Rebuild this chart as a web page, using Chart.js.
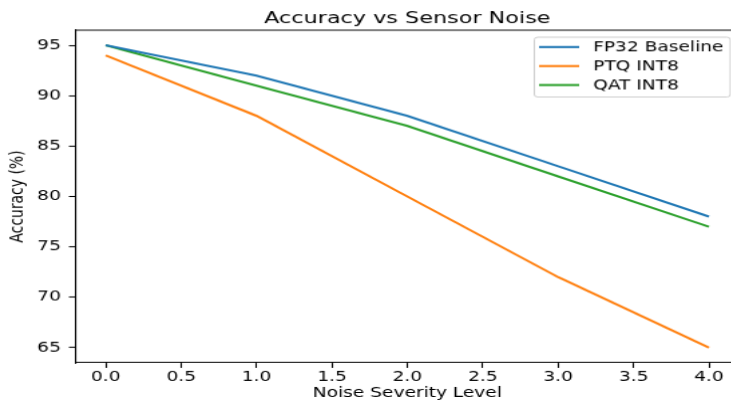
<!DOCTYPE html>
<html>
<head>
<meta charset="utf-8">
<script src="https://cdn.jsdelivr.net/npm/chart.js@4.4.1/dist/chart.umd.min.js"></script>
<style>
  html, body { margin: 0; padding: 0; background: #fff; overflow: hidden; width: 731px; height: 402px; }
  #wrap { width: 560px; height: 400px; transform-origin: 0 0; transform: scale(1.3375, 1.005); }
  canvas { display: block; }
</style>
</head>
<body>
<div id="wrap"><canvas id="c" width="560" height="400"></canvas></div>
<script>
const noiseLevels = [0, 1, 2, 3, 4];
const fp32Baseline = [95, 92, 88, 83, 78];
const ptqInt8 = [94, 88, 80, 72, 65];
const qatInt8 = [95, 91, 87, 82, 77];
const xTicks = [0, 0.5, 1, 1.5, 2, 2.5, 3, 3.5, 4];
const yTicks = [65, 70, 75, 80, 85, 90, 95];
const seriesNames = ['FP32 Baseline', 'PTQ INT8', 'QAT INT8'];
const seriesColors = ['#1f77b4', '#ff7f0e', '#2ca02c'];

const FONT = 'DejaVu Sans';
const toPts = vals => noiseLevels.map((x, i) => ({ x: x, y: vals[i] }));

const framePlugin = {
  id: 'frame',
  afterDraw(chart) {
    const { ctx, chartArea: a } = chart;
    ctx.save();
    ctx.strokeStyle = '#000';
    ctx.lineWidth = 1.1;
    ctx.beginPath();
    ctx.moveTo(a.left, a.top);
    ctx.lineTo(a.right, a.top);
    ctx.lineTo(a.right, a.bottom);
    ctx.stroke();
    // title
    ctx.fillStyle = '#000';
    ctx.font = '16.7px "' + FONT + '"';
    ctx.textAlign = 'center';
    ctx.textBaseline = 'alphabetic';
    ctx.fillText('Accuracy vs Sensor Noise', (a.left + a.right) / 2, 23);
    // legend
    const bx = 399.5, by = 37, bw = 146.5, bh = 59.5, r = 2.5;
    ctx.beginPath();
    ctx.moveTo(bx + r, by);
    ctx.lineTo(bx + bw - r, by);
    ctx.quadraticCurveTo(bx + bw, by, bx + bw, by + r);
    ctx.lineTo(bx + bw, by + bh - r);
    ctx.quadraticCurveTo(bx + bw, by + bh, bx + bw - r, by + bh);
    ctx.lineTo(bx + r, by + bh);
    ctx.quadraticCurveTo(bx, by + bh, bx, by + bh - r);
    ctx.lineTo(bx, by + r);
    ctx.quadraticCurveTo(bx, by, bx + r, by);
    ctx.closePath();
    ctx.fillStyle = 'rgba(255,255,255,0.8)';
    ctx.fill();
    ctx.strokeStyle = '#cccccc';
    ctx.lineWidth = 1;
    ctx.stroke();
    ctx.font = '13.9px "' + FONT + '"';
    ctx.textAlign = 'left';
    ctx.textBaseline = 'middle';
    chart.data.datasets.forEach((ds, i) => {
      const yy = 46.8 + i * 18.9;
      ctx.strokeStyle = ds.borderColor;
      ctx.lineWidth = 2.1;
      ctx.beginPath();
      ctx.moveTo(403, yy);
      ctx.lineTo(433, yy);
      ctx.stroke();
      ctx.fillStyle = '#000';
      ctx.fillText(ds.label, 443.5, yy + 0.5);
    });
    ctx.restore();
  }
};

new Chart(document.getElementById('c'), {
  type: 'line',
  data: {
    datasets: [
      { label: seriesNames[0], data: toPts(fp32Baseline), borderColor: seriesColors[0] },
      { label: seriesNames[1], data: toPts(ptqInt8), borderColor: seriesColors[1] },
      { label: seriesNames[2], data: toPts(qatInt8), borderColor: seriesColors[2] }
    ].map(d => Object.assign(d, { borderWidth: 2.1, pointRadius: 0, tension: 0, fill: false, backgroundColor: d.borderColor }))
  },
  options: {
    responsive: false,
    animation: false,
    devicePixelRatio: 1,
    layout: { padding: { top: 30, right: 7.4, left: 0, bottom: 0 } },
    plugins: { legend: { display: false }, title: { display: false }, tooltip: { enabled: false } },
    scales: {
      x: {
        type: 'linear',
        min: -0.2,
        max: 4.2,
        afterBuildTicks: s => { s.ticks = xTicks.map(v => ({ value: v })); },
        afterFit: s => { s.height = 39; },
        grid: { display: true, drawOnChartArea: false, tickLength: 5, tickColor: '#000', tickWidth: 1.1 },
        border: { display: true, color: '#000', width: 1.1 },
        ticks: { color: '#000', font: { family: FONT, size: 13.9 }, padding: 1, maxRotation: 0, autoSkip: false,
                 callback: v => Number(v).toFixed(1) },
        title: { display: true, text: 'Noise Severity Level', color: '#000', font: { family: FONT, size: 13.9 }, padding: { top: 0, bottom: 0 } }
      },
      y: {
        type: 'linear',
        min: 63.5,
        max: 96.5,
        afterBuildTicks: s => { s.ticks = yTicks.map(v => ({ value: v })); },
        afterFit: s => { s.width = 56.5; },
        grid: { display: true, drawOnChartArea: false, tickLength: 5, tickColor: '#000', tickWidth: 1.1 },
        border: { display: true, color: '#000', width: 1.1 },
        ticks: { color: '#000', font: { family: FONT, size: 13.9 }, padding: 6, autoSkip: false,
                 callback: v => String(v) },
        title: { display: true, text: 'Accuracy (%)', color: '#000', font: { family: FONT, size: 13.9 }, padding: { top: 5.5, bottom: 0 } }
      }
    }
  },
  plugins: [framePlugin]
});
</script>
</body>
</html>
